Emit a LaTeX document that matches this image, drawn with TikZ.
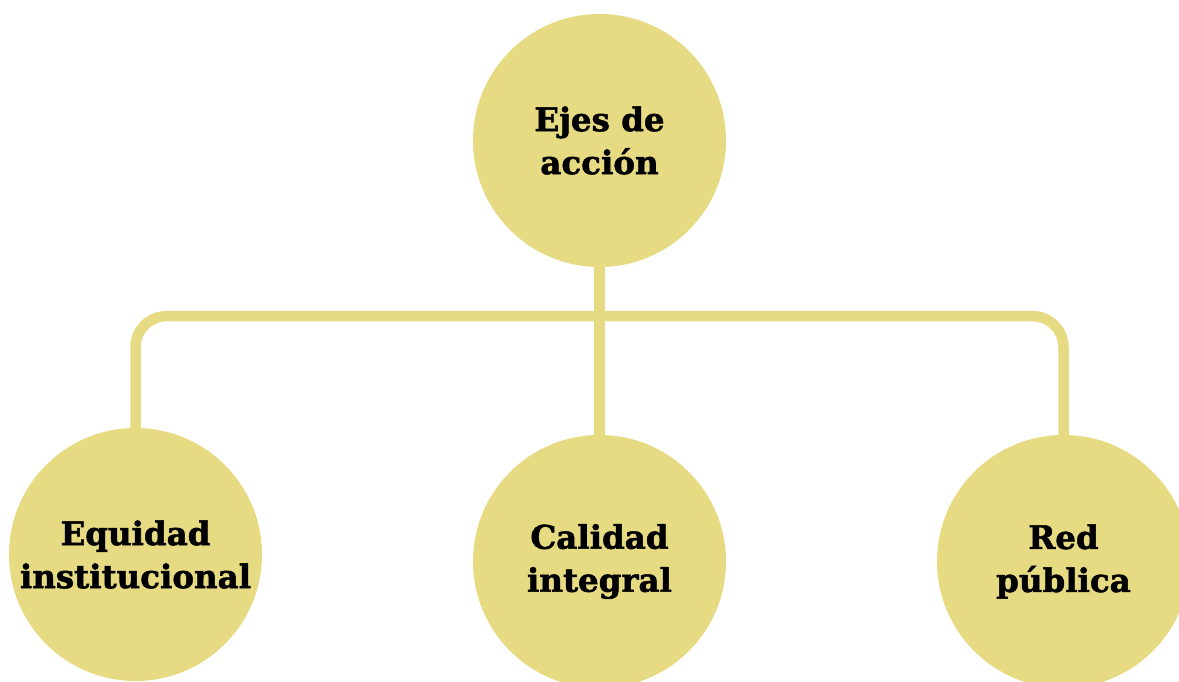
\documentclass[tikz,border=0pt]{standalone}
\usepackage{fontspec}
\setmainfont{DejaVu Serif}[BoldFeatures={FakeBold=1.6}]
\definecolor{amarillo}{HTML}{E6DA82}
\begin{document}
\begin{tikzpicture}[x=1pt,y=1pt,
  eje/.style={circle,fill=amarillo,minimum size=253pt,inner sep=0pt,align=center,
    font=\fontsize{32.5}{43}\selectfont\bfseries},
  level distance=421pt,sibling distance=464pt,
  edge from parent/.style={draw=amarillo,line width=10.5pt,rounded corners=31pt},
  edge from parent path={(\tikzchildnode.north) |- ([yshift=-49pt]\tikzparentnode.south)}]
  \clip (0,0) rectangle (1179,681);
	\node[eje] (ejes) at (599.5,540.5) {Ejes de\\acci\'on}
    child{node[eje,yshift=7pt] (equidad) {Equidad\\institucional}}
    child[edge from parent path={(\tikzparentnode.south) -- (\tikzchildnode.north)}]{node[eje] (calidad) {Calidad\\integral}}
    child{node[eje] (red) {Red\\p\'ublica}}
    	;
	\end{tikzpicture}
\end{document}
